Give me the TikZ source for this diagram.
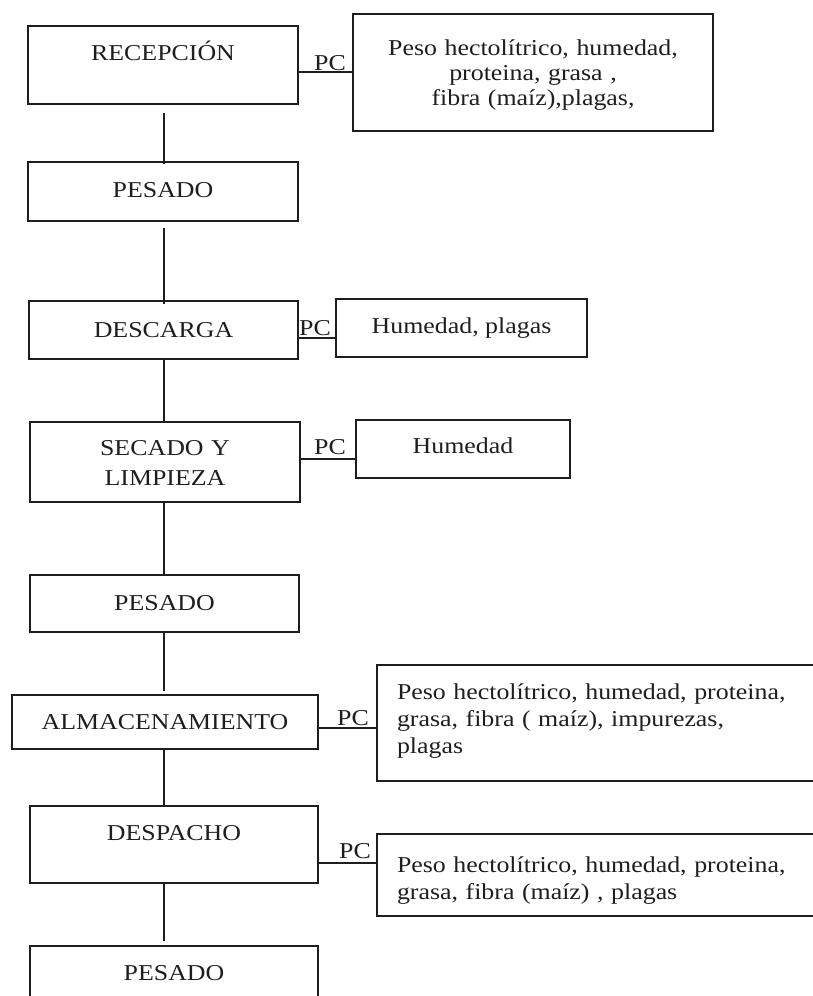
\documentclass[tikz,border=0pt]{standalone}
\usepackage{fontspec}
\setmainfont{Liberation Serif}[FakeStretch=1.14]
\definecolor{ink}{HTML}{1E1E1E}
\begin{document}
\begin{tikzpicture}[x=1pt,y=-1pt,
  box/.style={draw=ink, line width=1.2pt, inner sep=0pt, align=center, text height=16pt, text=ink},
  txt/.style={font=\fontsize{22.7pt}{#1pt}\selectfont},
  pclab/.style={anchor=base east, inner sep=0pt, text=ink, font=\fontsize{22.7pt}{25pt}\selectfont},
  link/.style={draw=ink, line width=1.2pt}]
\useasboundingbox (0,0) rectangle (813,996);
\clip (0,0) rectangle (813,996);
% process boxes
\node[box, txt=25, minimum width=270pt, minimum height=78pt, text depth=25pt] (rec) at (163,65) {RECEPCIÓN};
\node[box, txt=25, minimum width=270pt, minimum height=59pt, text depth=4pt] (pes1) at (163,191.5) {PESADO};
\node[box, txt=25, minimum width=269pt, minimum height=58pt, text depth=1pt] (desc) at (163.5,330) {DESCARGA};
\node[box, txt=30, inner xsep=15pt, text width=240pt, minimum height=80pt, text depth=29pt] (sec) at (165,462) {SECADO Y\\LIMPIEZA};
\node[box, txt=25, minimum width=269pt, minimum height=57pt, text depth=2pt] (pes2) at (164.5,603.5) {PESADO};
\node[box, txt=25, minimum width=306pt, minimum height=54pt, text depth=1pt] (alm) at (165,722) {ALMACENAMIENTO};
\node[box, txt=25, minimum width=288pt, minimum height=77pt, text depth=24pt] (desp) at (174,844.5) {DESPACHO};
\node[box, txt=25, minimum width=288pt, minimum height=57pt, text depth=4pt] (pes3) at (174,974.5) {PESADO};
% control-point boxes
\node[box, txt=25, inner xsep=15pt, text width=330pt, minimum height=117pt, text depth=51pt] (i1) at (533,72.5)
  {Peso hectolítrico, humedad,\\proteina, grasa ,\\fibra (maíz),plagas,};
\node[box, txt=25, minimum width=251pt, minimum height=58pt, text depth=6pt] (i2) at (461.5,328) {Humedad, plagas};
\node[box, txt=25, minimum width=214pt, minimum height=58pt, text depth=8pt] (i3) at (463,449) {Humedad};
\node[box, txt=27, align=left, inner xsep=20pt, text width=413pt, minimum height=116pt, text depth=64pt] (i4) at (603.5,723)
  {Peso hectolítrico, humedad, proteina,\\grasa, fibra ( maíz), impurezas,\\plagas};
\node[box, txt=27, align=left, inner xsep=20pt, text width=413pt, minimum height=82pt, text depth=21pt] (i5) at (603.5,875)
  {Peso hectolítrico, humedad, proteina,\\grasa, fibra (maíz) , plagas};
% coordinates for connectors
\coordinate (col) at (164,0);
\coordinate (pc1) at (0,72);
\coordinate (pc2) at (0,338);
\coordinate (pc3) at (0,459);
\coordinate (pc4) at (0,728);
\coordinate (pc5) at (0,863);
% vertical flow lines
\draw[link, shorten <=8pt, shorten >=-3pt] (rec.south -| col) -- (pes1.north -| col);
\draw[link, shorten <=6pt, shorten >=-4pt] (pes1.south -| col) -- (desc.north -| col);
\draw[link] (desc.south -| col) -- (sec.north -| col);
\draw[link] (sec.south -| col) -- (pes2.north -| col);
\draw[link, shorten >=3pt] (pes2.south -| col) -- (alm.north -| col);
\draw[link] (alm.south -| col) -- (desp.north -| col);
\draw[link, shorten >=4pt] (desp.south -| col) -- (pes3.north -| col);
% PC connectors
\draw[link] (rec.east |- pc1) -- (i1.west |- pc1) node[pclab, pos=1, xshift=-6pt, yshift=2pt] {PC};
\draw[link] (desc.east |- pc2) -- (i2.west |- pc2) node[pclab, pos=1, xshift=-4pt, yshift=3pt] {PC};
\draw[link] (sec.east |- pc3) -- (i3.west |- pc3) node[pclab, pos=1, xshift=-9pt, yshift=5pt] {PC};
\draw[link] (alm.east |- pc4) -- (i4.west |- pc4) node[pclab, pos=1, xshift=-7pt, yshift=3pt] {PC};
\draw[link] (desp.east |- pc5) -- (i5.west |- pc5) node[pclab, pos=1, xshift=-5pt, yshift=5pt] {PC};
\end{tikzpicture}
\end{document}
